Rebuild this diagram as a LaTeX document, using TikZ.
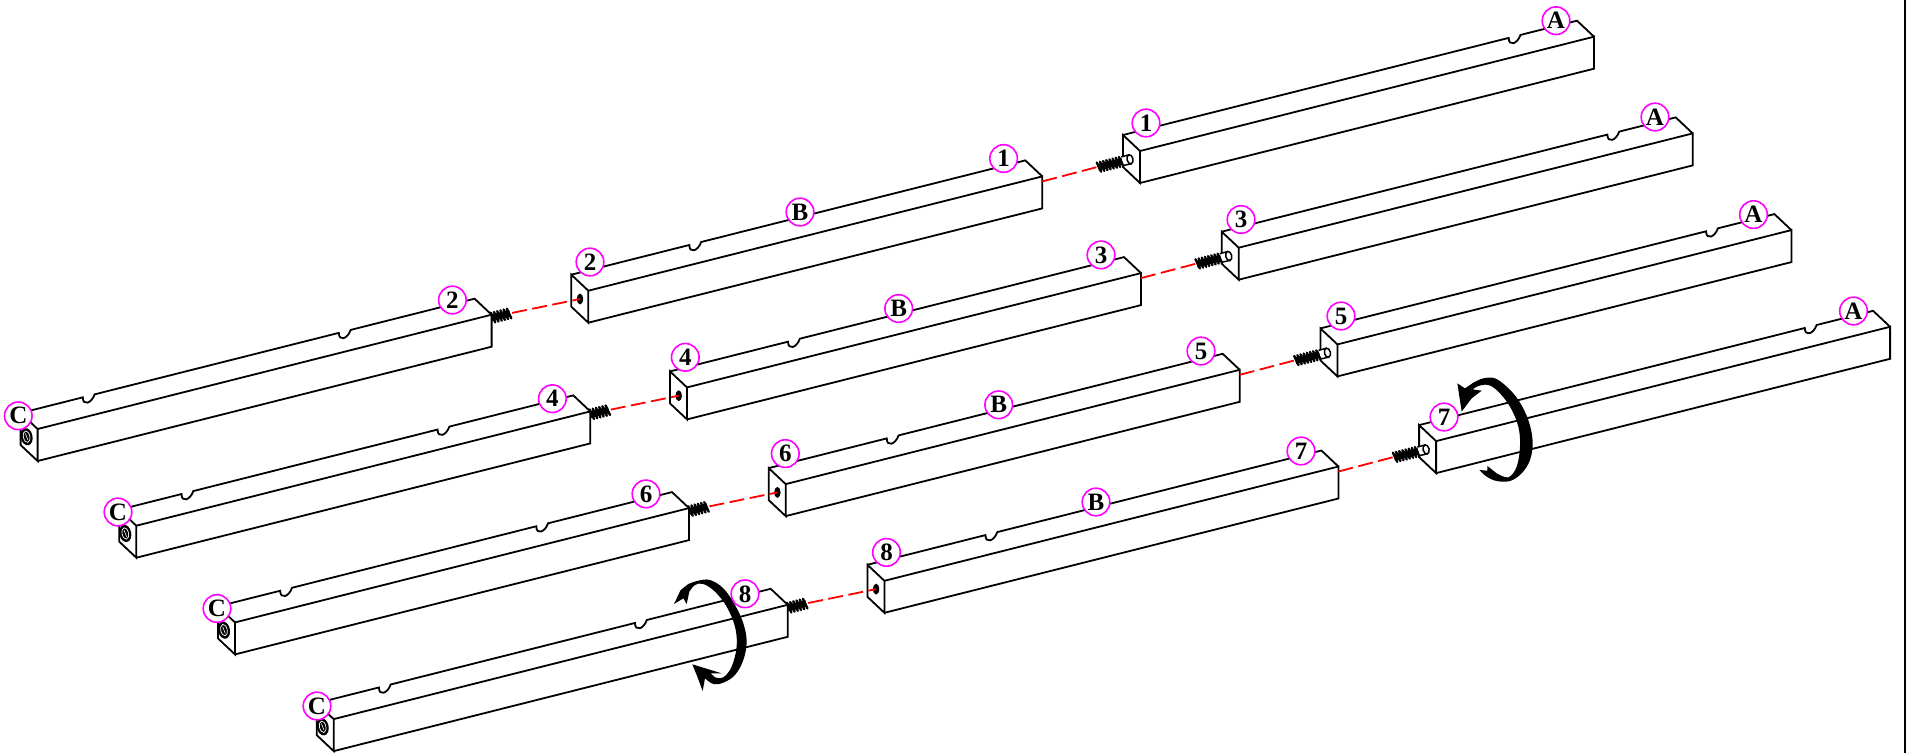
\documentclass[tikz,border=0pt]{standalone}
\usepackage{fontspec}
\setmainfont{Liberation Serif}
\usetikzlibrary{calc}
\definecolor{lab}{RGB}{255,0,255}
\definecolor{dashred}{RGB}{255,0,0}
\tikzset{
  barline/.style={line width=1.8pt,line join=miter,black},
  lbl/.style={circle,draw=lab,line width=1.6pt,fill=white,minimum size=27.6pt,inner sep=0pt,font=\fontsize{25}{25}\selectfont\bfseries,text=black},
  link/.style={dashred,line width=1.8pt,dash pattern=on 15pt off 5.5pt},
  coil/.style={line width=2.4pt,black,line cap=round},
}
\newcommand\notch[3]{-- ($(#1)!#3-0.013!(#2)$) .. controls +(0,9) and +(-3,9) .. ($(#1)!#3+0.013!(#2)$)}
\newcommand\barcoords[3]{%
  \coordinate (#1tf) at (#2,#3);
  \coordinate (#1bf) at (#2,#3+32);
  \coordinate (#1tb) at (#2-17,#3-16);
  \coordinate (#1bb) at (#2-17,#3+16);
  \coordinate (#1ftf) at (#2+454,#3-114.3);
  \coordinate (#1fbf) at (#2+454,#3-82.3);
  \coordinate (#1ftb) at (#2+437,#3-130.3);
  \draw[barline] (#1tb) -- (#1tf) -- (#1bf) -- (#1bb) -- cycle;
  \draw[barline] (#1tf) -- (#1ftf) -- (#1fbf) -- (#1bf);
}
\newcommand\threadA[1]{%
  \coordinate (#1ts) at ($(#1tf)+(-42,15.8)$);
  \begin{scope}[shift={($(#1tf)+(-10,8.3)$)},rotate=14.13]
    \draw[line width=1.5pt,fill=white] (-8,-4.4) -- (0,-4.6) -- (0,4.6) -- (-8,4.4);
    \draw[line width=1.5pt,fill=white] (0,0) ellipse [x radius=3,y radius=4.6];
    \fill[black] (-33,-3.4) rectangle (-8,3.4);
    \foreach \k in {0,...,7} \draw[coil] (-33+3.25*\k,-5) -- (-31+3.25*\k,5);
  \end{scope}
}
\newcommand\threadC[1]{%
  \coordinate (#1te) at ($(#1ftf)+(20.5,-1.8)$);
  \begin{scope}[shift={($(#1ftf)+(0,3.2)$)},rotate=14.13]
    \fill[black] (0,-3.4) rectangle (19,3.4);
    \foreach \k in {0,...,5} \draw[coil] (.5+3.3*\k,-5.2) -- (2.5+3.3*\k,5.2);
  \end{scope}
}
\newcommand\holeB[1]{%
  \coordinate (#1h) at ($(#1tf)+(-8.3,8.3)$);
  \draw[line width=1.7pt,fill=black] (#1h) ellipse [x radius=2.3,y radius=4.4];
}
\newcommand\nutC[1]{%
  \begin{scope}[shift={($(#1tf)+(-11,7.7)$)},rotate=12]
    \draw[line width=1.4pt,fill=black] (0,0) ellipse [x radius=5.2,y radius=8];
    \draw[white,line width=.7pt] (0,0) ellipse [x radius=3.2,y radius=5.8];
    \draw[white,line width=.6pt] (-.6,-3.5) -- (.6,3.5);
  \end{scope}
}
\begin{document}
\begin{tikzpicture}[x=1pt,y=-1pt]
\useasboundingbox (0,0) rectangle (1912,753);
\coordinate (rt) at (1904.5,0);
\coordinate (rb) at (1904.5,753);
\draw[line width=2pt,black] (rt) -- (rb);
% bars
\foreach \i/\x/\y in {1/1140/151,2/1238.7/247.7,3/1337.4/344.4,4/1436.1/441.1}{
  \barcoords{a\i}{\x}{\y}
  \draw[barline] (a\i tb) \notch{a\i tb}{a\i ftb}{0.8625} -- (a\i ftb) -- (a\i ftf);
  \threadA{a\i}
}
\foreach \i/\x/\y in {1/588.3/290.7,2/687/387.4,3/785.7/484.1,4/884.4/580.8}{
  \barcoords{b\i}{\x}{\y}
  \draw[barline] (b\i tb) \notch{b\i tb}{b\i ftb}{0.273} -- (b\i ftb) -- (b\i ftf);
  \holeB{b\i}
}
\foreach \i/\x/\y in {1/37.6/429,2/136.3/525.7,3/235/622.4,4/333.7/719.1}{
  \barcoords{c\i}{\x}{\y}
  \draw[barline] (c\i tb) \notch{c\i tb}{c\i ftb}{0.15} \notch{c\i tb}{c\i ftb}{0.714} -- (c\i ftb) -- (c\i ftf);
  \threadC{c\i}
  \nutC{c\i}
}
% dashed links
\foreach \i in {1,2,3,4}{
  \draw[link] ($(b\i ftf)+(0,5)$) -- (a\i ts);
  \draw[link] (c\i te) -- (b\i h);
}
% rotation arrows
\begin{scope}[shift={(660,570)},x=.3333pt,y=-.3333pt]
\fill[black] (42,102) -- (62,60) -- plot[smooth,tension=.6] coordinates {(85,42) (115,32) (150,30) (190,55) (225,105) (250,160) (260,215) (250,270) (225,315) (190,338) (160,342) (135,325)} -- (128,363) -- (112,320) -- (97,283) -- (185,310) -- (152,310) -- plot[smooth,tension=.6] coordinates {(165,322) (190,322) (215,290) (230,230) (225,170) (200,110) (165,65) (130,42) (105,45) (88,65)} -- (80,102) -- (70,85) -- cycle;
\end{scope}
\begin{scope}[shift={(1450,370)},x=.3333pt,y=-.3333pt]
\fill[black] (35,125) -- (22,40) -- (45,55) -- plot[smooth,tension=.6] coordinates {(70,38) (100,25) (135,25) (170,50) (205,90) (235,150) (248,215) (240,270) (215,310) (180,333) (140,333) (110,320) (88,300)} -- (112,302) -- (112,288) -- plot[smooth,tension=.6] coordinates {(140,310) (175,322) (200,290) (210,230) (205,170) (180,110) (145,65) (115,45) (85,48) (68,58)} -- (95,62) -- (65,85) -- cycle;
\end{scope}
% labels
\foreach \n/\x/\y/\t in {
 la1/1556/20.7/A, la2/1655/117/A, la3/1753.5/214.6/A, la4/1853.5/311/A,
 ln1/1146/123/1, ln3/1241/219.5/3, ln5/1341/316/5, ln7/1444/417/7,
 lf1/1003.6/158.5/1, lf3/1101/254.9/3, lf5/1201/351/5, lf7/1301/451/7,
 lb1/800/212/B, lb2/898.7/308.5/B, lb3/998.7/404.8/B, lb4/1096/502/B,
 lh2/590/262/2, lh4/685.3/357.3/4, lh6/785.3/453.6/6, lh8/886.5/552.4/8,
 lk2/452.4/300/2, lk4/552.4/398.7/4, lk6/646/493.9/6, lk8/745/593.8/8,
 lc1/18.3/415.8/C, lc2/118/512/C, lc3/217/608.5/C, lc4/317/706/C}{
  \node[lbl] (\n) at (\x,\y) {\t};
}
\end{tikzpicture}
\end{document}
